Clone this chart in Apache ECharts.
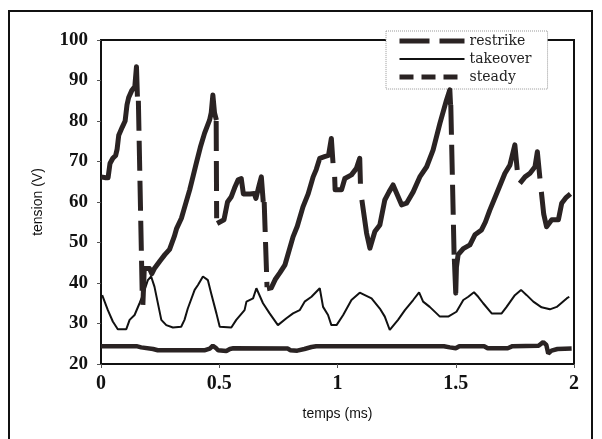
<!DOCTYPE html>
<html>
<head>
<meta charset="utf-8">
<script src="https://cdn.jsdelivr.net/npm/echarts@6/dist/echarts.min.js"></script>
<style>
  html, body { margin: 0; padding: 0; background: #fff; }
  #chart { width: 602px; height: 439px; }
</style>
</head>
<body>
<div id="chart"></div>
<script>
// axes
var xMin = 0, xMax = 2, xStep = 0.5;
var yMin = 20, yMax = 100, yStep = 10;

// restrike: thick solid ramps, [temps (ms), tension (V)]
var restrikeRamp1 = [[0,66.2],[0.02,66],[0.03,66],[0.038,69.5],[0.05,70.8],[0.062,71.5],[0.068,73],[0.075,76.5],[0.09,78.5],[0.102,80],[0.11,84],[0.117,85.8],[0.13,87.5],[0.143,88.5],[0.15,93.4],[0.154,86]];
var restrikeRamp2 = [[0.177,34.6],[0.183,43.6],[0.205,43.6],[0.215,42.3],[0.225,43.5],[0.25,45.5],[0.27,47],[0.29,48.3],[0.31,51.5],[0.32,53.5],[0.34,56],[0.35,58],[0.375,63],[0.39,66.5],[0.403,69.6],[0.42,73.5],[0.438,77],[0.459,80.2],[0.466,82],[0.473,86.4],[0.48,82],[0.488,80.2]];
var restrikeRamp3 = [[0.491,54.7],[0.52,55.6],[0.535,60],[0.551,61.3],[0.565,63.5],[0.58,65.5],[0.593,65.8],[0.602,62],[0.63,62],[0.648,62.1],[0.655,60.9],[0.668,64],[0.678,66.2],[0.686,60]];
var restrikeRamp4 = [[0.702,38.6],[0.72,38.8],[0.738,41],[0.756,42.5],[0.778,44.5],[0.812,51.4],[0.83,54],[0.854,58.8],[0.876,62],[0.897,66.2],[0.91,68],[0.925,70.8],[0.945,71.2],[0.962,71.5],[0.974,75.7],[0.981,69.6]];
var restrikeRamp5 = [[0.988,66.2],[0.99,63],[1.017,63],[1.031,65.8],[1.059,66.7],[1.08,68.3],[1.094,70.8],[1.097,64.5]];
var restrikeRamp6 = [[1.103,60.5],[1.123,52.3],[1.137,48.6],[1.158,52.7],[1.179,54.3],[1.2,60.5],[1.218,62.5],[1.235,64.2],[1.271,59.3],[1.292,59.7],[1.32,62.5],[1.348,66.2],[1.377,68.7],[1.404,72.8],[1.433,79.4],[1.461,85.2],[1.475,87.7],[1.478,84]];
var restrikeRamp7 = [[1.494,46],[1.5,37.5],[1.503,44],[1.51,47],[1.532,48.5],[1.56,49.4],[1.581,51.9],[1.609,53.1],[1.625,55],[1.644,58],[1.673,62.1],[1.708,67.1],[1.729,69.1],[1.75,74.1],[1.76,67.9]];
var restrikeRamp8 = [[1.771,64.6],[1.793,66.2],[1.814,67.1],[1.835,68.7],[1.845,72.4],[1.856,65.8]];
var restrikeRamp9 = [[1.862,62.5],[1.872,57],[1.884,53.9],[1.906,55.6],[1.934,55.6],[1.948,59.7],[1.965,61],[1.985,62]];

// restrike: dashed drops
var restrikeDrop1 = [[0.158,85],[0.175,35]];
var restrikeDrop2 = [[0.487,80],[0.489,56]];
var restrikeDrop3 = [[0.69,60],[0.702,39]];
var restrikeDrop4 = [[1.479,84],[1.493,47]];

var takeover = [[0.005,37],[0.029,33.3],[0.05,30.5],[0.071,28.6],[0.107,28.6],[0.121,30.9],[0.142,32.1],[0.163,35],[0.177,37],[0.198,40.7],[0.212,41.6],[0.226,39.1],[0.255,30.9],[0.276,29.6],[0.304,29],[0.339,29.2],[0.353,30.9],[0.367,33.7],[0.396,38.3],[0.41,39.5],[0.431,41.6],[0.452,40.7],[0.466,37.4],[0.488,32.5],[0.502,29.2],[0.551,29],[0.572,30.9],[0.607,33.3],[0.615,35.4],[0.643,36.2],[0.657,38.7],[0.685,35],[0.713,32.5],[0.748,29.6],[0.784,31.3],[0.812,32.5],[0.84,33.3],[0.861,35.4],[0.89,36.6],[0.925,38.7],[0.939,34.1],[0.96,32.1],[0.974,29.6],[0.996,29.6],[1.024,32.1],[1.059,35.8],[1.094,37.6],[1.144,36.2],[1.179,33.7],[1.2,31.7],[1.221,28.4],[1.256,30.9],[1.285,33.3],[1.32,35.8],[1.345,37.7],[1.362,35.4],[1.39,34.1],[1.433,31.7],[1.468,31.7],[1.503,32.9],[1.532,35.8],[1.553,36.6],[1.577,37.7],[1.595,36.6],[1.616,35],[1.652,32.5],[1.694,32.5],[1.715,34.1],[1.75,37],[1.776,38.3],[1.8,37],[1.828,35.4],[1.863,34],[1.898,33.5],[1.927,34.1],[1.969,36.2],[1.98,36.6]];

var steady = [[0,24.4],[0.15,24.4],[0.17,24.1],[0.22,23.7],[0.24,23.4],[0.44,23.4],[0.46,23.8],[0.473,24.5],[0.485,24],[0.495,23.4],[0.53,23.2],[0.545,23.7],[0.56,23.9],[0.79,23.8],[0.8,23.4],[0.83,23.3],[0.86,23.7],[0.89,24.2],[0.91,24.4],[1.45,24.4],[1.475,24.1],[1.5,23.9],[1.515,24.4],[1.62,24.4],[1.635,23.9],[1.72,23.9],[1.74,24.4],[1.85,24.5],[1.87,25.4],[1.883,24.7],[1.891,22.6],[1.905,23.3],[1.93,23.7],[1.99,23.8]];

function joinSegs(segs) {
  var out = [];
  segs.forEach(function (s, i) {
    if (i > 0) out.push([s[0][0], null]);
    out = out.concat(s);
  });
  return out;
}

var ink = '#2a2323';
var noSymbol = { color: 'transparent', borderWidth: 0, opacity: 0 };
var chart = echarts.init(document.getElementById('chart'));
chart.setOption({
  backgroundColor: '#fff',
  animation: false,
  graphic: [{
    type: 'rect', z: -1,
    shape: { x: 9, y: 11, width: 583, height: 440 },
    style: { fill: 'none', stroke: '#111', lineWidth: 2 }
  }],
  grid: { left: 101, right: 28, top: 40, bottom: 75, show: true, borderColor: '#111', borderWidth: 2 },
  legend: {
    orient: 'vertical',
    left: 386, top: 31,
    padding: [2, 16, 4, 11],
    itemGap: 2,
    itemWidth: 65,
    itemHeight: 10,
    backgroundColor: '#fff',
    borderColor: '#999',
    borderWidth: 1,
    borderType: 'dotted',
    textStyle: { fontFamily: 'DejaVu Serif', fontSize: 14, color: '#222', lineHeight: 16 },
    data: [
      { name: 'restrike', itemStyle: noSymbol, lineStyle: { type: [30, 10], width: 5, color: ink, cap: 'butt' } },
      { name: 'takeover', itemStyle: noSymbol, lineStyle: { type: 'solid', width: 2, color: '#111' } },
      { name: 'steady', itemStyle: noSymbol, lineStyle: { type: [14, 8], width: 5, color: ink, cap: 'butt' } }
    ]
  },
  xAxis: {
    type: 'value', min: xMin, max: xMax, interval: xStep,
    name: 'temps (ms)', nameLocation: 'middle', nameGap: 43,
    nameTextStyle: { fontFamily: 'Liberation Sans', fontSize: 14, color: '#111' },
    axisLine: { show: true, lineStyle: { color: '#111', width: 2 } },
    axisTick: { show: true, length: 4, lineStyle: { color: '#555' } },
    axisLabel: { fontFamily: 'Liberation Serif', fontWeight: 'bold', fontSize: 20, color: '#111', margin: 10 },
    splitLine: { show: false }
  },
  yAxis: {
    type: 'value', min: yMin, max: yMax, interval: yStep,
    name: 'tension (V)', nameLocation: 'middle', nameGap: 56, nameRotate: 90,
    nameTextStyle: { fontFamily: 'Liberation Sans', fontSize: 14, color: '#111' },
    axisLine: { show: true, lineStyle: { color: '#111', width: 2 } },
    axisTick: { show: true, length: 4, lineStyle: { color: '#555' } },
    axisLabel: { fontFamily: 'Liberation Serif', fontWeight: 'bold', fontSize: 19, color: '#111', margin: 13 },
    splitLine: { show: false }
  },
  series: [
    {
      name: 'steady', type: 'line', showSymbol: false, symbol: 'none',
      data: steady,
      lineStyle: { color: ink, width: 4.5 }, itemStyle: { color: ink }, z: 3
    },
    {
      name: 'takeover', type: 'line', showSymbol: false, symbol: 'none',
      data: takeover,
      lineStyle: { color: '#111', width: 2 }, itemStyle: { color: '#111' }, z: 3
    },
    {
      name: 'restrike ramps', type: 'line', showSymbol: false, symbol: 'none',
      data: joinSegs([restrikeRamp1, restrikeRamp2, restrikeRamp3, restrikeRamp4, restrikeRamp5,
                      restrikeRamp6, restrikeRamp7, restrikeRamp8, restrikeRamp9]),
      lineStyle: { color: ink, width: 5, join: 'round' }, itemStyle: { color: ink }, z: 4
    },
    {
      name: 'restrike', type: 'line', showSymbol: false, symbol: 'none',
      data: joinSegs([restrikeDrop1, restrikeDrop2, restrikeDrop3, restrikeDrop4]),
      lineStyle: { color: ink, width: 5, type: [30, 10], cap: 'butt' }, itemStyle: { color: ink }, z: 4
    }
  ]
});
</script>
</body>
</html>
